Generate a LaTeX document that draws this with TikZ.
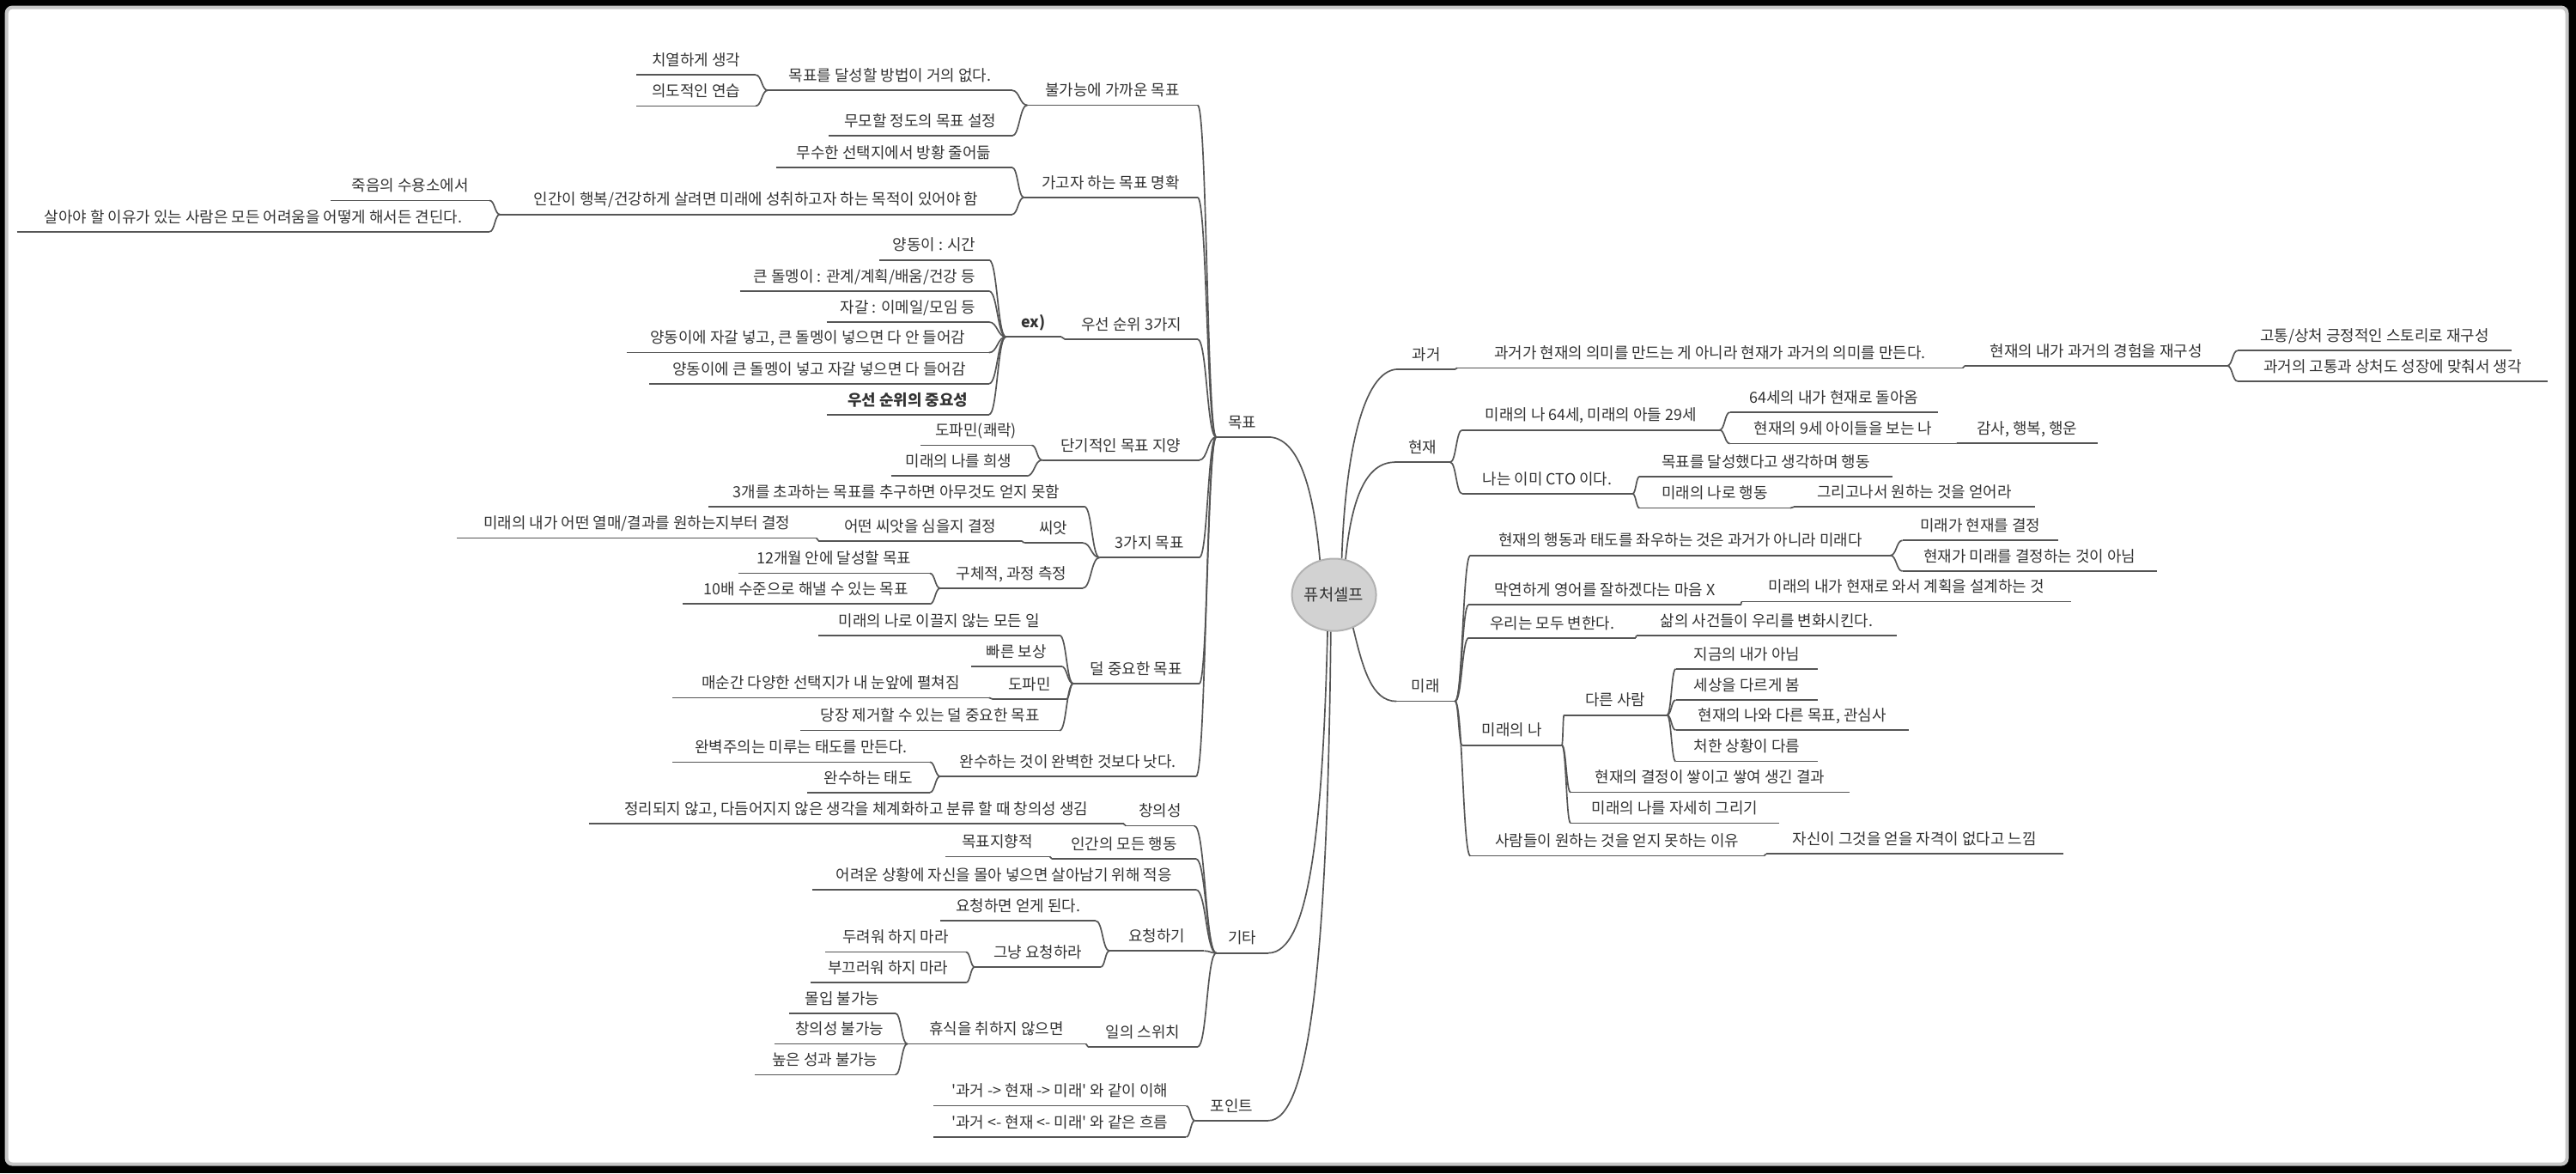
\documentclass[tikz,border=0pt]{standalone}
\usepackage{fontspec}
\newfontfamily\krfont{Noto Sans CJK KR}
\usetikzlibrary{shapes.geometric,calc}
\definecolor{lc}{HTML}{555555}
\definecolor{tc}{HTML}{333333}
\begin{document}
\begin{tikzpicture}[x=0.2mm,y=-0.2mm,
  lnk/.style={draw=lc,line width=0.5pt},
  base/.style={font=\krfont\fontsize{5.33pt}{6.4pt}\selectfont, text=tc, inner xsep=0pt, inner ysep=0pt, text height=1.6mm, text depth=1.05mm},
  lt/.style={base,anchor=south east},
  rt/.style={base,anchor=south west},
  uw/.style={minimum width=#1*0.2mm},
  sc/.style={to path={let \p1=(\tikztostart), \p2=(\tikztotarget), \n1={0.5*(\x2-\x1)} in .. controls (\x1+\n1,\y1) and (\x2-\n1,\y2) .. (\tikztotarget)}}
]
% frame
\fill[black] (0,0) rectangle (1568,714);
\fill[white, draw=gray!45, line width=1.2pt, rounded corners=2pt] (4,4.5) rectangle (1562.5,708.5);
\useasboundingbox (0,0) rectangle (1568,714);

% root
\node[ellipse, draw=gray!60, fill=gray!35, line width=0.6pt, minimum width=50*0.2mm, minimum height=44*0.2mm, inner sep=0pt, font=\krfont\fontsize{5.6pt}{6pt}\selectfont, text=tc] (root) at (812,362) {퓨처셀프};

% ---------- left tree ----------
\node[lt,uw=31] (mokpyo) at (772,266) {목표};
\node[lt,uw=103] (bulga) at (729,64) {불가능에 가까운 목표};
\node[lt,uw=148] (dalseong) at (616,55) {목표를 달성할 방법이 거의 없다.};
\node[lt,uw=72] (chiyeol) at (460,45.6) {치열하게 생각};
\node[lt,uw=72] (uido) at (460,64.5) {의도적인 연습};
\node[lt,uw=111] (mumo) at (616,82.7) {무모할 정도의 목표 설정};
\node[lt,uw=105] (gagoja) at (729,120.2) {가고자 하는 목표 명확};
\node[lt,uw=143] (musu) at (616,101.9) {무수한 선택지에서 방황 줄어듦};
\node[lt,uw=311] (ingan) at (616,130.5) {인간이 행복/건강하게 살려면 미래에 성취하고자 하는 목적이 있어야 함};
\node[lt,uw=96] (jugeum) at (298,122) {죽음의 수용소에서};
\node[lt,uw=287] (sara) at (298,141) {살아야 할 이유가 있는 사람은 모든 어려움을 어떻게 해서든 견딘다.};
\node[lt,uw=80] (useon) at (729,206.5) {우선 순위 3가지};
\node[lt,uw=33] (ex) at (646,205) {\textbf{ex)}};
\node[lt,uw=66] (yang) at (602,158.2) {양동이 : 시간};
\node[lt,uw=151] (keun) at (602,177.2) {큰 돌멩이 : 관계/계획/배움/건강 등};
\node[lt,uw=98] (jagal) at (602,196) {자갈 : 이메일/모임 등};
\node[lt,uw=220] (yd1) at (602,214.6) {양동이에 자갈 넣고, 큰 돌멩이 넣으면 다 안 들어감};
\node[lt,uw=206] (yd2) at (602,233.5) {양동이에 큰 돌멩이 넣고 자갈 넣으면 다 들어감};
\node[lt,uw=98] (jungyo) at (602,252.3) {\textbf{우선 순위의 중요성}};
\node[lt,uw=95] (dangi) at (730,280) {단기적인 목표 지양};
\node[lt,uw=67] (dopa1) at (628,271) {도파민(쾌락)};
\node[lt,uw=82] (huisaeng) at (625,289.7) {미래의 나를 희생};
\node[lt,uw=60] (sesgaji) at (730,339.3) {3가지 목표};
\node[lt,uw=228] (chogwa) at (660,308.3) {3개를 초과하는 목표를 추구하면 아무것도 얻지 못함};
\node[lt,uw=35] (ssiat) at (659,330.4) {씨앗};
\node[lt,uw=123] (eotteon) at (622,329.2) {어떤 씨앗을 심을지 결정};
\node[lt,uw=218] (yeolmae) at (497,327.5) {미래의 내가 어떤 열매/결과를 원하는지부터 결정};
\node[lt,uw=86] (guche) at (659,358) {구체적, 과정 측정};
\node[lt,uw=116] (twelve) at (566,348.9) {12개월 안에 달성할 목표};
\node[lt,uw=150] (ten) at (566,367.6) {10배 수준으로 해낼 수 있는 목표};
\node[lt,uw=76] (deol) at (730,416) {덜 중요한 목표};
\node[lt,uw=146] (ikkeul) at (645,386.7) {미래의 나로 이끌지 않는 모든 일};
\node[lt,uw=54] (ppareun) at (646,405.5) {빠른 보상};
\node[lt,uw=44] (dopa2) at (649,425.5) {도파민};
\node[lt,uw=192] (maesun) at (602,424.6) {매순간 다양한 선택지가 내 눈앞에 펼쳐짐};
\node[lt,uw=157] (dangjang) at (645,444.6) {당장 제거할 수 있는 덜 중요한 목표};
\node[lt,uw=155] (wansu) at (728,472.5) {완수하는 것이 완벽한 것보다 낫다.};
\node[lt,uw=156] (wanbyeok) at (566,463.8) {완벽주의는 미루는 태도를 만든다.};
\node[lt,uw=74] (taedo) at (566,482.3) {완수하는 태도};
\node[lt,uw=31] (gita) at (772,580) {기타};
\node[lt,uw=41] (changui) at (727,502.6) {창의성};
\node[lt,uw=325] (jeongri) at (684,501.4) {정리되지 않고, 다듬어지지 않은 생각을 체계화하고 분류 할 때 창의성 생김};
\node[lt,uw=87] (haengdong) at (728,522.7) {인간의 모든 행동};
\node[lt,uw=63] (jihyang) at (639,521.3) {목표지향적};
\node[lt,uw=233] (eoryeo) at (728,541.5) {어려운 상황에 자신을 몰아 넣으면 살아남기 위해 적응};
\node[lt,uw=57] (yocheong) at (733,578.7) {요청하기};
\node[lt,uw=94] (eotge) at (667,560.4) {요청하면 얻게 된다.};
\node[lt,uw=76] (geunyang) at (670,588.5) {그냥 요청하라};
\node[lt,uw=85] (duryeo) at (588,579.4) {두려워 하지 마라};
\node[lt,uw=94] (bukkeu) at (588,598) {부끄러워 하지 마라};
\node[lt,uw=66] (switch) at (729,637.1) {일의 스위치};
\node[lt,uw=108] (hyusik) at (661,635.3) {휴식을 취하지 않으면};
\node[lt,uw=64] (mollip) at (545,616.7) {몰입 불가능};
\node[lt,uw=79] (changbul) at (551,635.3) {창의성 불가능};
\node[lt,uw=85] (nopeun) at (545,654.1) {높은 성과 불가능};
\node[lt,uw=44] (point) at (772,682) {포인트};
\node[lt,uw=153] (p1) at (722,673) {'과거 -> 현재 -> 미래' 와 같이 이해};
\node[lt,uw=153] (p2) at (722,692) {'과거 <- 현재 <- 미래' 와 같은 흐름};

% ---------- right tree ----------
\node[rt,uw=34] (gwageo) at (851,224.7) {과거};
\node[rt,uw=307] (gw1) at (887,223.9) {과거가 현재의 의미를 만드는 게 아니라 현재가 과거의 의미를 만든다.};
\node[rt,uw=159] (jaegu) at (1196,222.6) {현재의 내가 과거의 경험을 재구성};
\node[rt,uw=166] (gotong) at (1362,213.4) {고통/상처 긍정적인 스토리로 재구성};
\node[rt,uw=188] (gwageoui) at (1362,232) {과거의 고통과 상처도 성장에 맞춰서 생각};
\node[rt,uw=33] (hyeonjae) at (849,281.3) {현재};
\node[rt,uw=156] (nai64) at (890,261.7) {미래의 나 64세, 미래의 아들 29세};
\node[rt,uw=126] (dolaom) at (1053,250.9) {64세의 내가 현재로 돌아옴};
\node[rt,uw=137] (ai9) at (1053,270) {현재의 9세 아이들을 보는 나};
\node[rt,uw=85] (gamsa) at (1191,269.7) {감사, 행복, 행운};
\node[rt,uw=103] (cto) at (890,300.5) {나는 이미 CTO 이다.};
\node[rt,uw=153] (dalhaeng) at (998,290) {목표를 달성했다고 생각하며 행동};
\node[rt,uw=91] (haengdong2) at (998,309.2) {미래의 나로 행동};
\node[rt,uw=146] (eodeo) at (1092,308.5) {그리고나서 원하는 것을 얻어라};
\node[rt,uw=35] (mirae) at (850,426.8) {미래};
\node[rt,uw=255] (jwau) at (895,338) {현재의 행동과 태도를 좌우하는 것은 과거가 아니라 미래다};
\node[rt,uw=94] (gyeol) at (1158,328.9) {미래가 현재를 결정};
\node[rt,uw=154] (ani) at (1158,347.6) {현재가 미래를 결정하는 것이 아님};
\node[rt,uw=165] (makyeon) at (894,368) {막연하게 영어를 잘하겠다는 마음 X};
\node[rt,uw=200] (seolgye) at (1060,366.2) {미래의 내가 현재로 와서 계획을 설계하는 것};
\node[rt,uw=101] (byeon) at (894,388.2) {우리는 모두 변한다.};
\node[rt,uw=158] (sageon) at (996,386.8) {삶의 사건들이 우리를 변화시킨다.};
\node[rt,uw=60] (miraena) at (890,453.5) {미래의 나};
\node[rt,uw=62] (dareun) at (952,435.2) {다른 사람};
\node[rt,uw=86] (jigeum) at (1020,407.1) {지금의 내가 아님};
\node[rt,uw=86] (sesang) at (1020,426) {세상을 다르게 봄};
\node[rt,uw=141] (mokgwan) at (1020,444.3) {현재의 나와 다른 목표, 관심사};
\node[rt,uw=86] (cheohan) at (1020,463.4) {처한 상황이 다름};
\node[rt,uw=169] (gyeolgwa) at (956,482.2) {현재의 결정이 쌓이고 쌓여 생긴 결과};
\node[rt,uw=126] (jasehi) at (956,500.9) {미래의 나를 자세히 그리기};
\node[rt,uw=178] (iyu) at (895,520.9) {사람들이 원하는 것을 얻지 못하는 이유};
\node[rt,uw=180] (jagyeok) at (1075,519.7) {자신이 그것을 얻을 자격이 없다고 느낌};

% underlines
\foreach \nm in {mokpyo,bulga,dalseong,chiyeol,uido,mumo,gagoja,musu,ingan,jugeum,sara,useon,ex,yang,keun,jagal,yd1,yd2,jungyo,dangi,dopa1,huisaeng,sesgaji,chogwa,ssiat,eotteon,yeolmae,guche,twelve,ten,deol,ikkeul,ppareun,dopa2,maesun,dangjang,wansu,wanbyeok,taedo,gita,changui,jeongri,haengdong,jihyang,eoryeo,yocheong,eotge,geunyang,duryeo,bukkeu,switch,hyusik,mollip,changbul,nopeun,point,p1,p2,gwageo,gw1,jaegu,gotong,gwageoui,hyeonjae,nai64,dolaom,ai9,gamsa,cto,dalhaeng,haengdong2,eodeo,mirae,jwau,gyeol,ani,makyeon,seolgye,byeon,sageon,miraena,dareun,jigeum,sesang,mokgwan,cheohan,gyeolgwa,jasehi,iyu,jagyeok}
  \draw[lnk] (\nm.south west) -- (\nm.south east);

% left connectors (child -> parent)
\foreach \pa/\ch in {mokpyo/bulga, mokpyo/gagoja, mokpyo/useon, mokpyo/dangi, mokpyo/sesgaji, mokpyo/deol, mokpyo/wansu, bulga/dalseong, bulga/mumo, dalseong/chiyeol, dalseong/uido, gagoja/musu, gagoja/ingan, ingan/jugeum, ingan/sara, useon/ex, ex/yang, ex/keun, ex/jagal, ex/yd1, ex/yd2, ex/jungyo, dangi/dopa1, dangi/huisaeng, sesgaji/chogwa, sesgaji/ssiat, sesgaji/guche, ssiat/eotteon, eotteon/yeolmae, guche/twelve, guche/ten, deol/ikkeul, deol/ppareun, deol/dopa2, deol/dangjang, dopa2/maesun, wansu/wanbyeok, wansu/taedo, gita/changui, gita/haengdong, gita/eoryeo, gita/yocheong, gita/switch, changui/jeongri, haengdong/jihyang, yocheong/eotge, yocheong/geunyang, geunyang/duryeo, geunyang/bukkeu, switch/hyusik, hyusik/mollip, hyusik/changbul, hyusik/nopeun, point/p1, point/p2}
  \draw[lnk] (\ch.south east) to[sc] (\pa.south west);

% right connectors (parent -> child)
\foreach \pa/\ch in {gwageo/gw1, gw1/jaegu, jaegu/gotong, jaegu/gwageoui, hyeonjae/nai64, hyeonjae/cto, nai64/dolaom, nai64/ai9, ai9/gamsa, cto/dalhaeng, cto/haengdong2, haengdong2/eodeo, mirae/jwau, mirae/makyeon, mirae/byeon, mirae/miraena, mirae/iyu, jwau/gyeol, jwau/ani, makyeon/seolgye, byeon/sageon, miraena/dareun, miraena/gyeolgwa, miraena/jasehi, dareun/jigeum, dareun/sesang, dareun/mokgwan, dareun/cheohan, iyu/jagyeok}
  \draw[lnk] (\pa.south east) to[sc] (\ch.south west);

% root connectors
\draw[lnk] (root.112) .. controls ($(root.112)+(-4,-45)$) and ($(mokpyo.south east)+(18,0)$) .. (mokpyo.south east);
\draw[lnk] (root.-100) .. controls ($(root.-100)+(-3,120)$) and ($(gita.south east)+(25,0)$) .. (gita.south east);
\draw[lnk] (root.-95) .. controls ($(root.-95)+(-2,200)$) and ($(point.south east)+(25,0)$) .. (point.south east);
\draw[lnk] (root.78) .. controls ($(root.78)+(2,-60)$) and ($(gwageo.south west)+(-22,0)$) .. (gwageo.south west);
\draw[lnk] (root.72) .. controls ($(root.72)+(3,-30)$) and ($(hyeonjae.south west)+(-20,0)$) .. (hyeonjae.south west);
\draw[lnk] (root.-60) .. controls ($(root.-60)+(6,25)$) and ($(mirae.south west)+(-15,0)$) .. (mirae.south west);
\end{tikzpicture}
\end{document}
